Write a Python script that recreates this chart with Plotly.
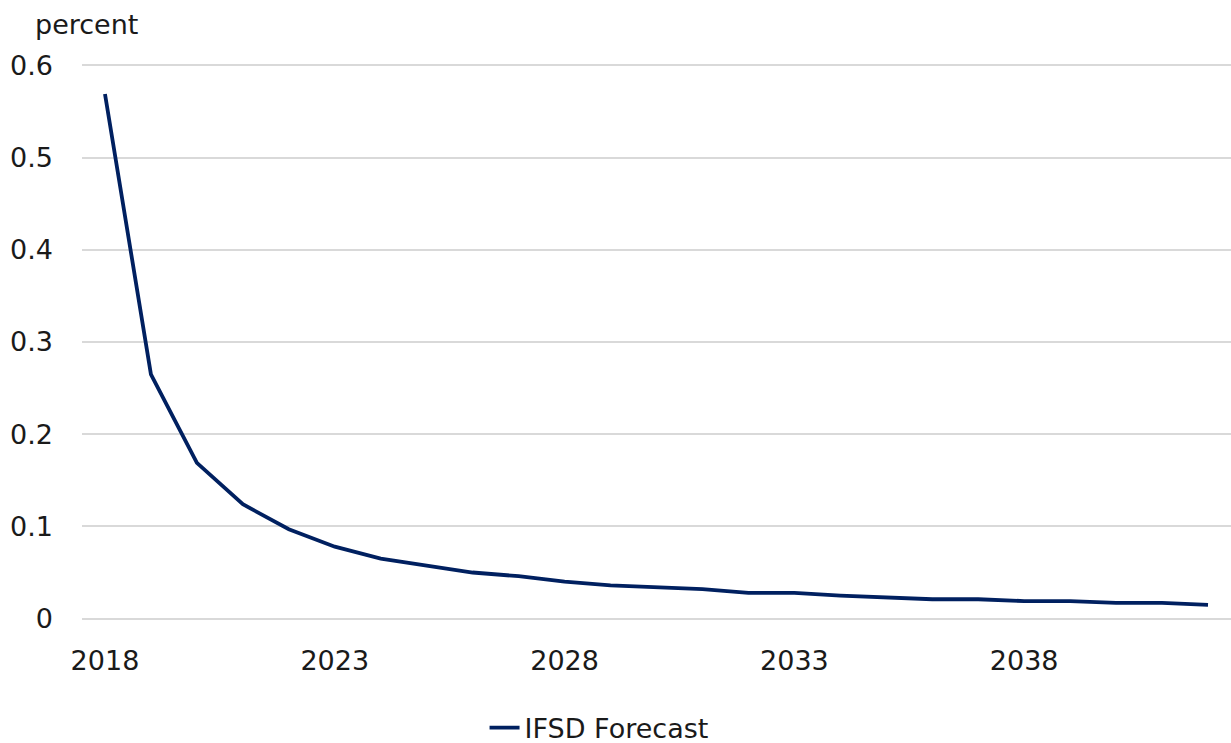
import plotly.graph_objects as go

# Annual values, percent
years = [str(y) for y in range(2018, 2043)]
forecast = [0.569, 0.265, 0.169, 0.124, 0.097, 0.078, 0.065, 0.057, 0.050, 0.046,
            0.040, 0.036, 0.034, 0.032, 0.028, 0.028, 0.025, 0.023, 0.021, 0.021,
            0.019, 0.019, 0.017, 0.017, 0.015]
x_ticks = ["2018", "2023", "2028", "2033", "2038"]
y_ticks = [0, 0.1, 0.2, 0.3, 0.4, 0.5, 0.6]
y_labels = ["0", "0.1", "0.2", "0.3", "0.4", "0.5", "0.6"]

FONT = "DejaVu Sans"
TEXT = "#1a1a1a"
SIZE = 27

fig = go.Figure()
fig.add_trace(go.Scatter(
    x=years, y=forecast, mode="lines", name="IFSD Forecast",
    line=dict(color="#002060", width=3.8),
))

# pad the value range a hair so the 0 and 0.6 grid lines are drawn
pad = 0.0015
fig.update_layout(
    width=1231, height=743,
    margin=dict(l=82, r=0, t=64, b=123, autoexpand=False),
    paper_bgcolor="white", plot_bgcolor="white",
    font=dict(family=FONT, size=SIZE, color=TEXT),
    showlegend=True,
    legend=dict(orientation="h", x=0.45, xanchor="center",
                yref="paper", y=-108 / 556, yanchor="middle",
                font=dict(size=SIZE, color=TEXT)),
    xaxis=dict(type="category", range=[-0.5, 24.5],
               tickvals=x_ticks, ticktext=x_ticks,
               showgrid=False, showline=False, ticks="",
               ticklabelstandoff=22),
    yaxis=dict(range=[-pad, 0.6 + pad], tickvals=y_ticks, ticktext=y_labels,
               showgrid=True, gridcolor="#d9d9d9", gridwidth=1.5,
               zeroline=False, showline=False, ticks="",
               ticklabelstandoff=28),
    annotations=[dict(text="percent", xref="paper", yref="paper",
                      x=(33 - 82) / 1149, y=1.0 + 39 / 556, xanchor="left",
                      yanchor="middle", showarrow=False,
                      font=dict(size=SIZE, color=TEXT, family=FONT))],
)

fig.write_html("out.html")
